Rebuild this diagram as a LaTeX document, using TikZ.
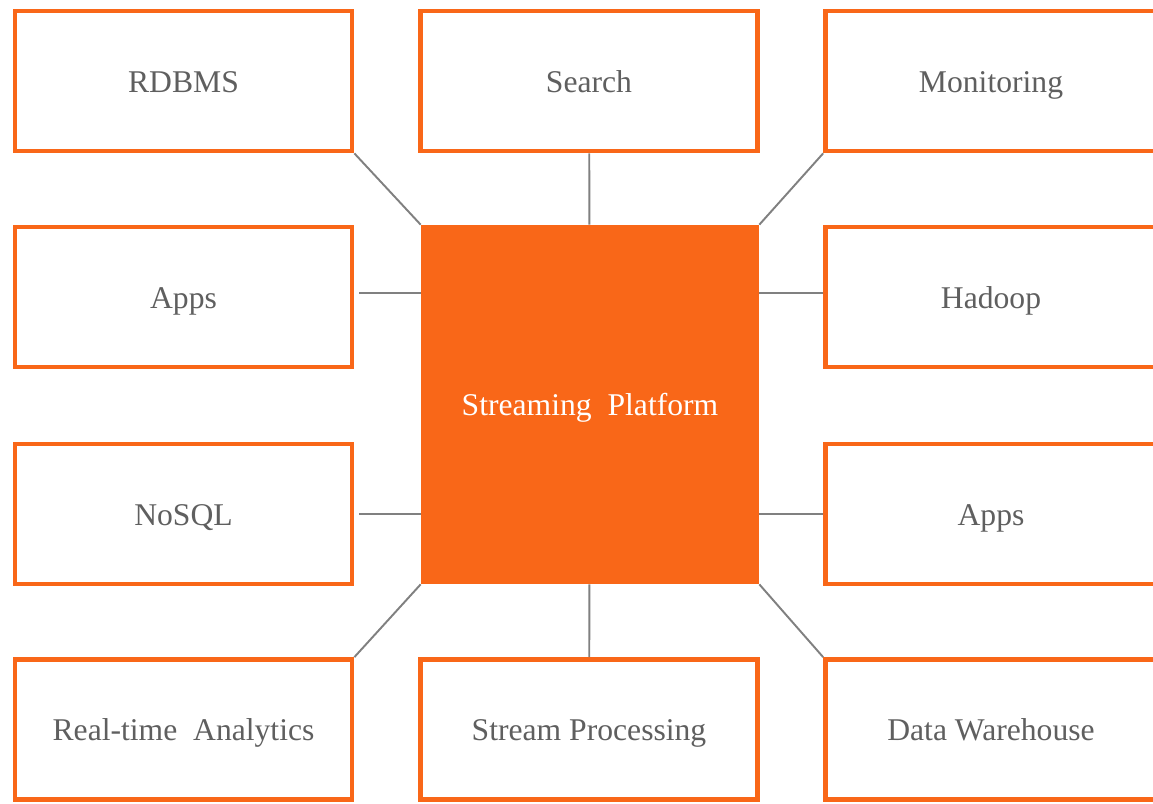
\documentclass[tikz,border=0pt]{standalone}
\usepackage{fontspec}
\setmainfont{Liberation Serif}
\usetikzlibrary{positioning}

\definecolor{kafkaorange}{HTML}{F96718}
\definecolor{linkgray}{HTML}{808080}
\definecolor{labelgray}{HTML}{5F5F5F}

\tikzset{
  labeltext/.style={text=labelgray, font=\fontsize{18}{22}\selectfont, text height=13pt, text depth=0pt},
  sysbox/.style={labeltext, draw=kafkaorange, line width=2.7pt, fill=white, minimum width=6.74cm, minimum height=2.8cm, inner sep=0pt},
  hubbox/.style={labeltext, fill=kafkaorange, minimum width=6.76cm, minimum height=7.18cm, inner sep=0pt, text=white},
  link/.style={draw=linkgray, line width=1.1pt}
}

\begin{document}
\begin{tikzpicture}
\useasboundingbox (0,0) rectangle (23.06,-16.08); %page size
\clip (0,0) rectangle (23.06,-16.08);

\node[hubbox] (platform) at (11.8,-8.09) {}; %centre

\node[sysbox] (rdbms) at (3.67,-1.62) {RDBMS}; %left column
\node[sysbox] (appsin) at (3.67,-5.94) {Apps};
\node[sysbox] (nosql) at (3.67,-10.28) {NoSQL};
\node[sysbox] (analytics) at (3.67,-14.59) {Real-time\ \ Analytics};

\node[sysbox] (search) at (11.78,-1.62) {Search}; %middle column
\node[sysbox] (streamproc) at (11.78,-14.59) {Stream Processing};

\node[sysbox] (monitoring) at (19.88,-1.62) {}; %right column, cut at the edge
\node[sysbox] (hadoop) at (19.88,-5.94) {};
\node[sysbox] (appsout) at (19.88,-10.28) {};
\node[sysbox] (warehouse) at (19.88,-14.59) {};
\node[labeltext] (monitoringtxt) at (19.82,-1.62) {Monitoring};
\node[labeltext] (hadooptxt) at (19.82,-5.94) {Hadoop};
\node[labeltext] (appsouttxt) at (19.82,-10.28) {Apps};
\node[labeltext] (warehousetxt) at (19.82,-14.59) {Data Warehouse};

\draw[link] (rdbms.south east) -- (platform.north west); %corner links
\draw[link] (monitoring.south west) -- (platform.north east);
\draw[link] (analytics.north east) -- (platform.south west);
\draw[link] (warehouse.north west) -- (platform.south east);

\draw[link] (search) -- (platform); %straight links
\draw[link] (streamproc) -- (platform);
\draw[link] ([xshift=0.1cm,yshift=0.08cm]appsin.east) -- ([yshift=0.08cm]appsin.east -| platform.west);
\draw[link] ([xshift=0.1cm]nosql.east) -- (nosql.east -| platform.west);
\draw[link] ([yshift=0.08cm]hadoop.west) -- ([yshift=0.08cm]hadoop.west -| platform.east);
\draw[link] (appsout.west) -- (appsout.west -| platform.east);

\node[hubbox] (platformtop) at (platform) {Streaming\ \ Platform}; %hub over the links
\end{tikzpicture}
\end{document}
